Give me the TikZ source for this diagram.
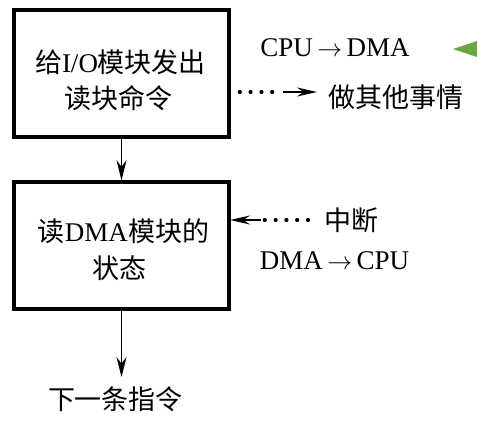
\documentclass[tikz,border=0pt]{standalone}
\usepackage{fontspec}
\setmainfont{Liberation Serif}
\newfontfamily\cjk{Noto Sans CJK SC}
\usetikzlibrary{arrows.meta,calc}
\newcommand\zh[1]{{\cjk #1}}
\definecolor{tri}{RGB}{104,166,70}
\tikzset{
  box/.style={draw, line width=3.4pt, minimum width=215pt, minimum height=127pt, inner sep=0pt},
  txt/.style={inner sep=0pt, font=\fontsize{27}{32}\selectfont},
  flow/.style={line width=1.8pt, -{Stealth[length=20pt,width=10pt]}},
  dotseg/.style={line width=4.2pt, line cap=round, dash pattern=on 0pt off 10.8pt},
  tipseg/.style={line width=2pt, -{Stealth[length=20pt,width=9pt]}},
}
\begin{document}
\begin{tikzpicture}[x=1pt,y=-1pt]
\useasboundingbox (0,0) rectangle (477,434);
% boxes
\node[box] (b1) at (121.5,73.5) {};
\node[box] (b2) at (121.5,245.5) {};
% box texts
\node[txt] (t1a) at (120.5,62) {\zh{给}I/O\zh{模块发出}};
\node[txt] (t1b) at (118.5,98) {\zh{读块命令}};
\node[txt] (t2a) at (123.5,231) {\zh{读}DMA\zh{模块的}};
\node[txt] (t2b) at (119,268) {\zh{状态}};
% side texts
\node[txt] (c1) at (335,48) {CPU\,$\rightarrow$\,DMA};
\node[txt] (other) at (396,97) {\zh{做其他事情}};
\node[txt] (zd) at (351.5,220) {\zh{中断}};
\node[txt] (c2) at (334.5,261) {DMA\,$\rightarrow$\,CPU};
\node[txt] (next) at (115.5,399) {\zh{下一条指令}};
% vertical arrows
\draw[flow] (b1.south) -- (b2.north);
\coordinate (nexttop) at (121.5,377);
\draw[flow] (b2.south) -- (nexttop);
% dotted arrow 1 (to the right)
\coordinate (a1s) at (229,92);
\coordinate (a1m) at (278,92);
\coordinate (a1e) at (317,92);
\draw[dotseg] (a1s) -- (a1m);
\draw[tipseg] ($(a1m)+(5,0)$) coordinate (a1k) (a1k) -- (a1e);
% dotted arrow 2 (to the left)
\coordinate (a2s) at (308,220);
\coordinate (a2m) at (258,220);
\coordinate (a2e) at (230,220);
\draw[dotseg] (a2s) -- (a2m);
\draw[tipseg] ($(a2m)+(3,0)$) coordinate (a2k) (a2k) -- (a2e);
% green triangle at the right edge
\fill[tri] (453,49) -- (477,41) -- (477,57) -- cycle;
\end{tikzpicture}
\end{document}
